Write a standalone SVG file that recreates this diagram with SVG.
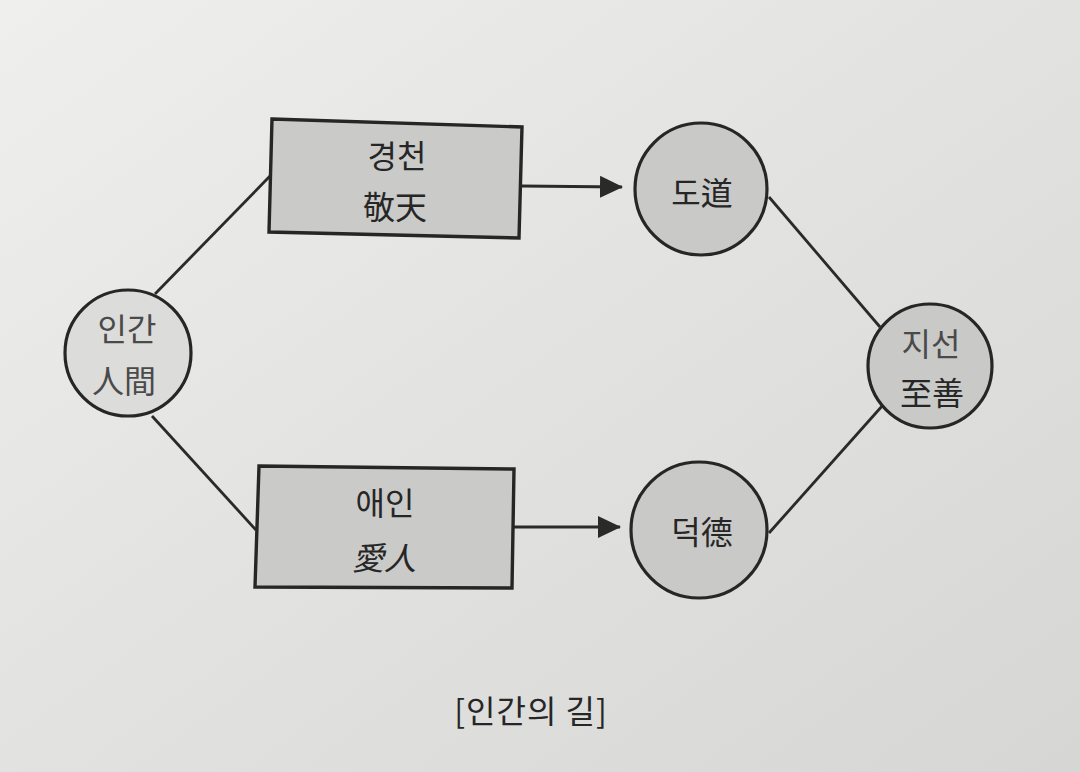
<svg xmlns="http://www.w3.org/2000/svg" width="1080" height="772" viewBox="0 0 1080 772">
<defs>
<linearGradient id="bg" x1="0" y1="0" x2="1" y2="1">
<stop offset="0" stop-color="#efefee"/>
<stop offset="0.5" stop-color="#e2e2e0"/>
<stop offset="1" stop-color="#d6d6d4"/>
</linearGradient>
<marker id="arr" markerWidth="24" markerHeight="22" refX="22" refY="11" orient="auto" markerUnits="userSpaceOnUse">
<path d="M0,0 L23,11 L0,22 Z" fill="#2a2a2a"/>
</marker>
<style>
.box{fill:#cacac8;stroke:#262626;stroke-width:3.4}
.circ{fill:#c9c9c7;stroke:#262626;stroke-width:3.2}
.light{fill:#dcdcda}
.line{stroke:#2a2a2a;stroke-width:2.8;fill:none}
.t{font-family:"Noto Sans CJK KR","Noto Sans CJK SC",sans-serif;font-size:32px;fill:#262626;text-anchor:middle}
.g{fill:#4a4a4a}
</style>
</defs>
<rect width="1080" height="772" fill="url(#bg)"/>
<g id="connectors">
<line class="line" x1="155" y1="294" x2="271" y2="175"/>
<line class="line" x1="152" y1="416" x2="256" y2="530"/>
<line class="line" x1="769" y1="197" x2="880" y2="327"/>
<line class="line" x1="769" y1="533" x2="883" y2="405"/>
<line class="line" x1="521" y1="186" x2="622" y2="187" marker-end="url(#arr)"/>
<line class="line" x1="513" y1="527" x2="620" y2="527" marker-end="url(#arr)"/>
</g>
<g id="node-human">
<circle class="circ light" cx="128" cy="353" r="63"/>
<text class="t g" x="127" y="341">인간</text>
<text class="t g" x="124" y="393">人間</text>
</g>
<g id="node-gyeongcheon">
<polygon class="box" points="272,119 522,127 519,238 269,232"/>
<text class="t" x="397" y="168" font-size="34">경천</text>
<text class="t" x="395" y="219" font-size="34">敬天</text>
</g>
<g id="node-aein">
<polygon class="box" points="259,466 514,469 512,588 255,587"/>
<text class="t" x="385" y="515" font-size="34">애인</text>
<text class="t" x="384" y="570" font-size="34" font-style="italic">愛人</text>
</g>
<g id="node-do">
<circle class="circ" cx="701" cy="189" r="66"/>
<text class="t" x="702" y="205">도道</text>
</g>
<g id="node-deok">
<circle class="circ" cx="699" cy="530" r="68"/>
<text class="t" x="702" y="544">덕德</text>
</g>
<g id="node-jiseon">
<circle class="circ" cx="930" cy="366" r="62"/>
<text class="t g" x="931" y="356">지선</text>
<text class="t" x="932" y="405" font-size="29">至善</text>
</g>
<text class="t" x="531" y="723" font-size="40" letter-spacing="1">[인간의 길]</text>
</svg>
